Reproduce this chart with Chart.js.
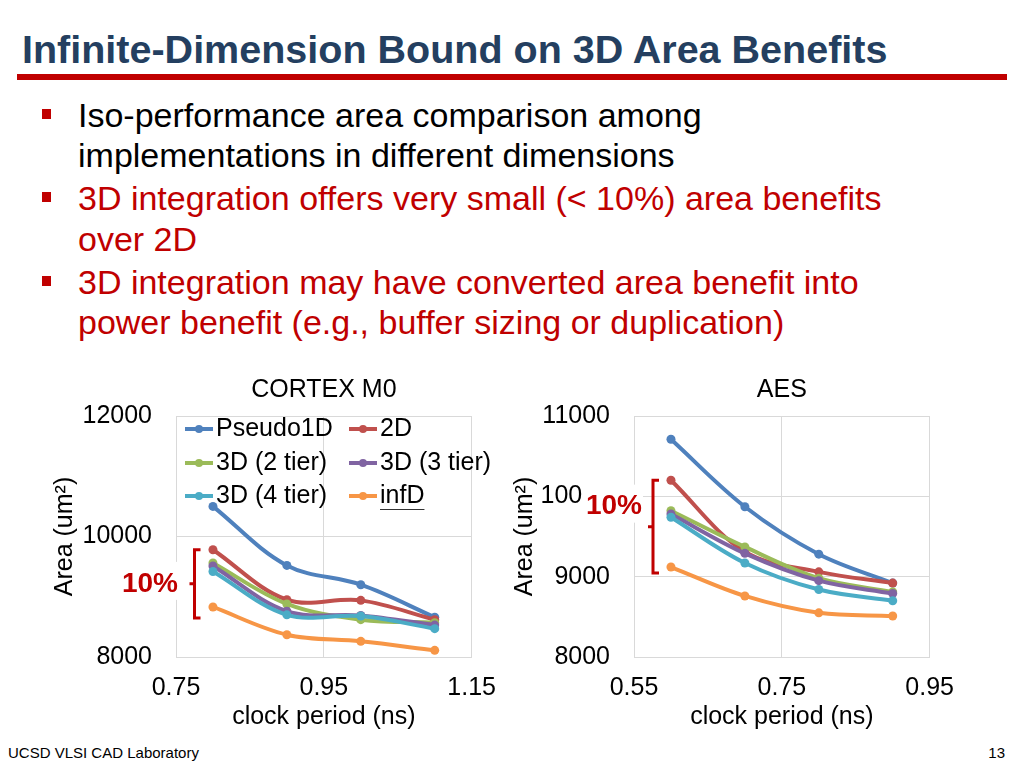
<!DOCTYPE html>
<html>
<head>
<meta charset="utf-8">
<script src="https://cdn.jsdelivr.net/npm/chart.js@4.4.1/dist/chart.umd.min.js"></script>
<style>
body { margin: 0; background: #fff; }
#slide { position: relative; width: 1024px; height: 768px; overflow: hidden; font-family: "Liberation Sans", Arial, sans-serif; }
#title { position: absolute; left: 22px; top: 29px; font-weight: bold; font-size: 39.5px; line-height: 40px; color: #243F60; white-space: nowrap; }
#rule { position: absolute; left: 17px; top: 74px; width: 990px; height: 6px; background: #C00000; }
.line { position: absolute; left: 78px; font-size: 34px; line-height: 40px; white-space: nowrap; color: #000; }
.red { color: #C00000; }
.bullet { position: absolute; left: 42px; width: 9px; height: 10px; background: #C00000; }
canvas { position: absolute; }
#cortex { left: 40px; top: 370px; }
#aes { left: 500px; top: 370px; }
#footer { position: absolute; left: 8px; top: 744px; font-size: 15px; line-height: 18px; }
#pageno { position: absolute; right: 19px; top: 744px; font-size: 15px; line-height: 18px; }
</style>
</head>
<body>
<div id="slide">
  <div id="title">Infinite-Dimension Bound on 3D Area Benefits</div>
  <div id="rule"></div>

  <div class="bullet" style="top:109px"></div>
  <div class="line" style="top:95px">Iso-performance area comparison among</div>
  <div class="line" style="top:135px">implementations in different dimensions</div>
  <div class="bullet" style="top:192px"></div>
  <div class="line red" style="top:178px">3D integration offers very small (&lt; 10%) area benefits</div>
  <div class="line red" style="top:219px">over 2D</div>
  <div class="bullet" style="top:276px"></div>
  <div class="line red" style="top:262px">3D integration may have converted area benefit into</div>
  <div class="line red" style="top:302px">power benefit (e.g., buffer sizing or duplication)</div>

  <canvas id="cortex" width="472" height="365"></canvas>
  <canvas id="aes" width="470" height="365"></canvas>

  <div id="footer">UCSD VLSI CAD Laboratory</div>
  <div id="pageno">13</div>
</div>

<script>
"use strict";

// series names + colours (Office palette)
const seriesNames = ['Pseudo1D', '2D', '3D (2 tier)', '3D (3 tier)', '3D (4 tier)', 'infD'];
const seriesColors = ['#4F81BD', '#C0504D', '#9BBB59', '#8064A2', '#4BACC6', '#F79646'];

// CORTEX M0 - clock period (ns) vs area (um2)
const cortexClock = [0.8, 0.9, 1.0, 1.1];
const cortexXTicks = [0.75, 1.15];
const cortexPseudo1D = [10500, 9520, 9200, 8660];
const cortex2D = [9780, 8950, 8940, 8620];
const cortex3D2 = [9560, 8880, 8620, 8570];
const cortex3D3 = [9510, 8760, 8690, 8530];
const cortex3D4 = [9420, 8700, 8680, 8470];
const cortexInfD = [8830, 8370, 8260, 8110];

// AES
const aesClock = [0.6, 0.7, 0.8, 0.9];
const aesXTicks = [0.55, 0.95];
const aesPseudo1D = [10710, 9870, 9280, 8920];
const aes2D = [10200, 9310, 9060, 8920];
const aes3D2 = [9820, 9370, 8980, 8810];
const aes3D3 = [9780, 9290, 8950, 8790];
const aes3D4 = [9740, 9170, 8840, 8700];
const aesInfD = [9120, 8760, 8550, 8510];

const cortexSeries = [cortexPseudo1D, cortex2D, cortex3D2, cortex3D3, cortex3D4, cortexInfD];
const aesSeries = [aesPseudo1D, aes2D, aes3D2, aes3D3, aes3D4, aesInfD];

Chart.defaults.font.family = '"Liberation Sans", Arial, sans-serif';
Chart.defaults.font.size = 25;
Chart.defaults.color = '#000';

function toPoints(xs, ys) {
    return xs.map((x, i) => ({x: x, y: ys[i]}));
}

// legend drawn inside the plot, 2 columns like the excel one
const insideLegend = {
    id: 'insideLegend',
    afterDraw(chart, args, opts) {
        if (!opts.show) return;
        const ctx = chart.ctx;
        const area = chart.chartArea;
        ctx.save();
        ctx.font = '25px "Liberation Sans", Arial';
        ctx.textBaseline = 'middle';
        chart.data.datasets.forEach((ds, i) => {
            const x = area.left + opts.colX[i % 2];
            const y = area.top + opts.rowY[Math.floor(i / 2)];
            ctx.strokeStyle = ds.borderColor;
            ctx.lineWidth = 4;
            ctx.beginPath();
            ctx.moveTo(x, y);
            ctx.lineTo(x + 28, y);
            ctx.stroke();
            ctx.fillStyle = ds.borderColor;
            ctx.beginPath();
            ctx.arc(x + 14, y, 4, 0, Math.PI * 2);
            ctx.fill();
            ctx.fillStyle = '#000';
            ctx.fillText(ds.label, x + 31, y);
            if (ds.label === 'infD') {
                // spell-check style underline
                const w = ctx.measureText(ds.label).width;
                ctx.strokeStyle = '#333';
                ctx.lineWidth = 1;
                ctx.beginPath();
                ctx.moveTo(x + 31, y + 13.5);
                ctx.lineTo(x + 31 + w, y + 13.5);
                ctx.stroke();
            }
        });
        ctx.restore();
    }
};

// red bracket with "10%"
const tenPercent = {
    id: 'tenPercent',
    afterDraw(chart, args, opts) {
        const ctx = chart.ctx;
        const yScale = chart.scales.y;
        const area = chart.chartArea;
        const top = yScale.getPixelForValue(opts.topValue);
        const bottom = yScale.getPixelForValue(opts.bottomValue) + opts.extraBottom;
        const bx = area.left + opts.offsetX;
        const mid = (top + bottom) / 2;
        ctx.save();
        ctx.strokeStyle = '#C00000';
        ctx.lineWidth = 3;
        ctx.beginPath();
        ctx.moveTo(bx + 6, top);
        ctx.lineTo(bx, top);
        ctx.lineTo(bx, bottom);
        ctx.lineTo(bx + 6, bottom);
        ctx.moveTo(bx, mid);
        ctx.lineTo(bx - 5, mid);
        ctx.stroke();
        ctx.font = 'bold 28px "Liberation Sans", Arial';
        const tx = bx + opts.labelDx;
        const ty = mid + opts.labelDy;
        const w = ctx.measureText('10%').width;
        ctx.fillStyle = '#fff';
        ctx.fillRect(tx - w - 3, ty - 22, w + 4, 38);
        ctx.fillStyle = '#C00000';
        ctx.textAlign = 'right';
        ctx.textBaseline = 'middle';
        ctx.fillText('10%', tx, ty);
        ctx.restore();
    }
};

function makeChart(id, title, clock, series, xTicks, yMin, yMax, yStep, yWidth, legendOn, bracket) {
    const datasets = series.map((vals, i) => ({
        label: seriesNames[i],
        data: toPoints(clock, vals),
        borderColor: seriesColors[i],
        backgroundColor: seriesColors[i],
        pointBackgroundColor: seriesColors[i],
        pointBorderWidth: 0,
        pointRadius: 4.5,
        borderWidth: 4,
        tension: 0.35,
        fill: false,
        order: series.length - i
    }));
    return new Chart(document.getElementById(id), {
        type: 'line',
        data: {datasets: datasets},
        options: {
            responsive: false,
            animation: false,
            events: [],
            layout: {padding: 0},
            plugins: {
                legend: {display: false},
                tooltip: {enabled: false},
                title: {
                    display: true,
                    text: title,
                    fullSize: false,
                    color: '#000',
                    font: {size: 25, weight: 'normal'},
                    padding: {top: 5, bottom: 11}
                },
                insideLegend: {show: legendOn, colX: [9, 173], rowY: [13, 47, 80]},
                tenPercent: bracket
            },
            scales: {
                x: {
                    type: 'linear',
                    min: xTicks[0],
                    max: xTicks[1],
                    grid: {color: '#D9D9D9', drawTicks: false, tickLength: 0},
                    border: {color: '#D9D9D9'},
                    ticks: {stepSize: 0.2, padding: 16, callback: v => v.toFixed(2)},
                    title: {display: true, text: 'clock period (ns)', padding: {top: 0, bottom: 3}},
                    afterFit: scale => { scale.height = 78; }
                },
                y: {
                    min: yMin,
                    max: yMax,
                    grid: {color: '#D9D9D9', drawTicks: false, tickLength: 0},
                    border: {color: '#D9D9D9'},
                    ticks: {stepSize: yStep, padding: 24, callback: v => String(v)},
                    title: {display: true, text: 'Area (um\u00B2)', padding: {top: 10, bottom: 0}},
                    afterFit: scale => { scale.width = yWidth; }
                }
            }
        },
        plugins: [insideLegend, tenPercent]
    });
}

makeChart('cortex', 'CORTEX M0', cortexClock, cortexSeries, cortexXTicks, 8000, 12000, 2000, 136, true,
    {topValue: cortex2D[0], bottomValue: cortexInfD[0], extraBottom: 11, offsetX: 18.5, labelDx: -16.5, labelDy: 0});
makeChart('aes', 'AES', aesClock, aesSeries, aesXTicks, 8000, 11000, 1000, 134, false,
    {topValue: aes2D[0], bottomValue: aesInfD[0], extraBottom: 6, offsetX: 19, labelDx: -11, labelDy: -20});
</script>
</body>
</html>
